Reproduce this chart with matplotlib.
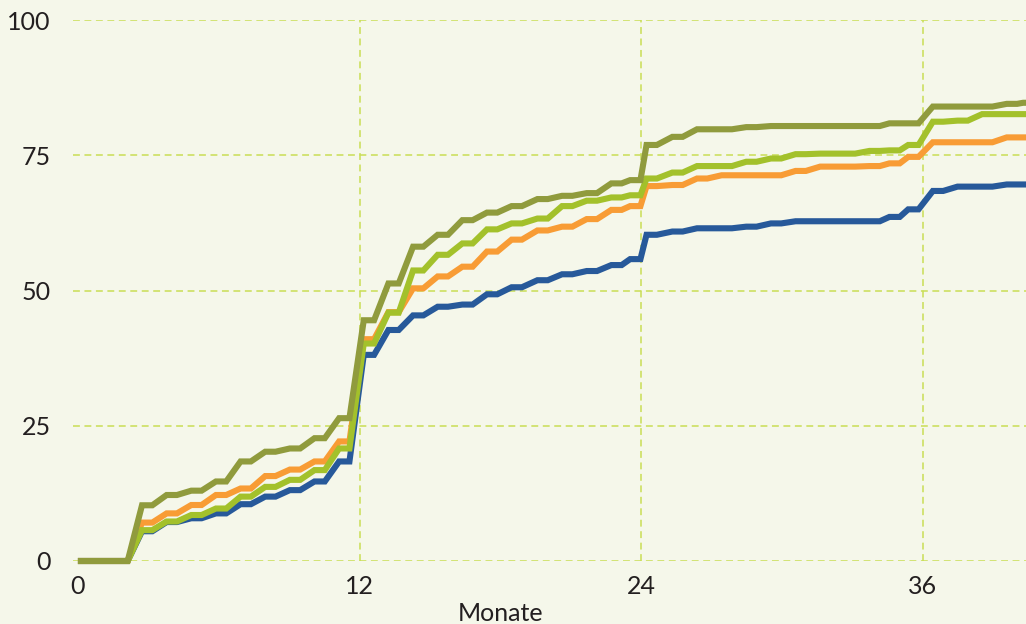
import numpy as np
import matplotlib.pyplot as plt

# time points (months) where each curve has a short plateau
months = np.array([0, 1.9, 2.95, 4.0, 5.05, 6.1, 7.15, 8.2, 9.25, 10.3, 11.35,
                   12.4, 13.45, 14.5, 15.55, 16.6, 17.65, 18.7, 19.8, 20.85, 21.9,
                   22.95, 23.75, 24.45, 25.55, 26.6, 27.65, 28.7, 29.75, 30.8, 31.85,
                   32.9, 33.95, 34.8, 35.6, 36.65, 37.7, 38.75, 39.8, 40.5])

blue = [0, 0, 5.5, 7.2, 7.9, 8.8, 10.5, 11.9, 13.1, 14.7, 18.4,
        38.1, 42.7, 45.4, 47.0, 47.4, 49.3, 50.6, 51.9, 53.0, 53.6,
        54.7, 55.8, 60.3, 60.9, 61.5, 61.5, 61.8, 62.4, 62.8, 62.8,
        62.8, 62.8, 63.6, 65.0, 68.4, 69.2, 69.2, 69.6, 69.6]
orange = [0, 0, 7.1, 8.8, 10.35, 12.2, 13.4, 15.7, 16.9, 18.4, 22.1,
          41.0, 46.0, 50.4, 52.6, 54.4, 57.2, 59.4, 61.1, 61.8, 63.2,
          64.9, 65.6, 69.3, 69.5, 70.7, 71.3, 71.3, 71.3, 72.1, 72.9,
          72.9, 73.0, 73.5, 74.7, 77.4, 77.4, 77.4, 78.3, 78.3]
green = [0, 0, 5.7, 7.3, 8.5, 9.7, 11.9, 13.7, 15.0, 16.8, 20.8,
         40.2, 45.9, 53.7, 56.6, 58.7, 61.3, 62.4, 63.3, 65.6, 66.6,
         67.2, 67.6, 70.7, 71.8, 73.0, 73.0, 73.8, 74.4, 75.2, 75.3,
         75.3, 75.8, 75.9, 76.9, 81.2, 81.4, 82.6, 82.6, 82.6]
olive = [0, 0, 10.3, 12.2, 13.0, 14.7, 18.4, 20.2, 20.8, 22.7, 26.4,
         44.5, 51.3, 58.1, 60.3, 63.0, 64.4, 65.6, 66.9, 67.5, 68.0,
         69.8, 70.4, 76.9, 78.4, 79.8, 79.8, 80.2, 80.4, 80.4, 80.4,
         80.4, 80.4, 80.9, 80.9, 84.0, 84.0, 84.0, 84.5, 84.7]

series = [(blue, '#27599a'), (orange, '#f89c35'), (green, '#a3c12b'), (olive, '#909b3d')]

xticks = [0, 12, 24, 36]
yticks = [0, 25, 50, 75, 100]

bg = '#f5f7ea'
grid_col = '#c9de55'
text_col = '#231f20'

plt.rcParams['font.family'] = ['Lato', 'DejaVu Sans']

fig = plt.figure(figsize=(10.26, 6.24), dpi=100, facecolor=bg)
ax = fig.add_axes([73 / 1026, 63 / 624, 1 - 73 / 1026, (561 - 20) / 624])
ax.set_facecolor(bg)

# each value is held for a short plateau, then ramps to the next
hw = 0.22
xs = np.clip(np.column_stack([months - hw, months + hw]).ravel(), 0, months[-1])
for vals, col in series:
    ys = np.repeat(vals, 2)
    ax.plot(xs, ys, color=col, lw=4.4, solid_joinstyle='miter',
            solid_capstyle='butt', clip_on=False, zorder=3)

ax.set_xlim(-0.21, 40.4)
ax.set_ylim(0, 100)

for y in yticks:
    ax.axhline(y, color=grid_col, lw=1.1, ls=(0, (4.5, 3)), zorder=1)
for x in xticks[1:]:
    ax.axvline(x, color=grid_col, lw=1.1, ls=(0, (4.5, 3)), zorder=1)

ax.set_xticks(xticks)
ax.set_yticks(yticks)
ax.tick_params(length=0, labelsize=18, colors=text_col)
ax.tick_params(axis='y', pad=16)
ax.tick_params(axis='x', pad=10)
for s in ax.spines.values():
    s.set_visible(False)

ax.set_xlabel('Monate', fontsize=18, color=text_col)
ax.xaxis.set_label_coords(0.449, -0.076)

fig.savefig('out.png', dpi=100, facecolor=bg)
